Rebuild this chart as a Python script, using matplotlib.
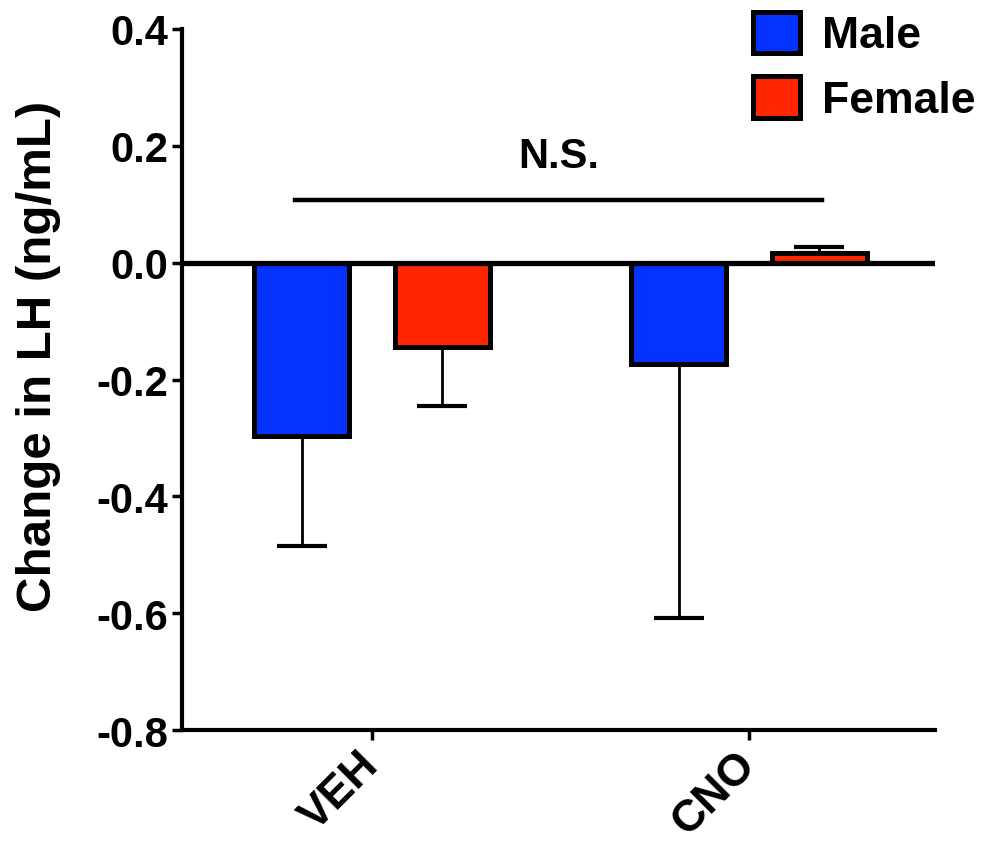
import numpy as np
import matplotlib
matplotlib.use("Agg")
import matplotlib.pyplot as plt

plt.rcParams['font.family'] = ['Liberation Sans', 'DejaVu Sans']
plt.rcParams['font.weight'] = 'bold'

# Datos
grupos = ["VEH", "CNO"]
series = ["Male", "Female"]
media_male = [-0.296, -0.173]
media_female = [-0.145, 0.017]
error_male = [0.189, 0.435]
error_female = [0.100, 0.010]
colores = ["#0433FF", "#FF2600"]
ticks_y = [-0.8, -0.6, -0.4, -0.2, 0.0, 0.2, 0.4]
etiquetas_y = ["-0.8", "-0.6", "-0.4", "-0.2", "0.0", "0.2", "0.4"]

fig = plt.figure(figsize=(9.82, 8.45), dpi=100)
ax = fig.add_axes([0.1853, 0.1349, 0.7668, 0.8296])

x = np.arange(len(grupos))
ancho = 0.252
desp = 0.186

for medias, errores, color, nombre, signo in [
        (media_male, error_male, colores[0], series[0], -1),
        (media_female, error_female, colores[1], series[1], 1)]:
    pos = x + signo * desp
    ax.bar(pos, medias, width=ancho, color=color, edgecolor='black',
           linewidth=3.6, label=nombre, zorder=3)
    # barras de error de un solo lado (hacia fuera)
    abajo = [e if m < 0 else 0 for m, e in zip(medias, errores)]
    arriba = [e if m >= 0 else 0 for m, e in zip(medias, errores)]
    ax.errorbar(pos, medias, yerr=[abajo, arriba], fmt='none', ecolor='black',
                elinewidth=2, capsize=18, capthick=3, zorder=2)

ax.axhline(0, color='black', linewidth=3.8, zorder=4)

# N.S.
ax.plot([-0.204, 1.194], [0.108, 0.108], color='black', linewidth=3.2)
ax.text(0.494, 0.148, "N.S.", ha='center', va='bottom', fontsize=30, fontweight='bold')

ax.set_xlim(-0.504, 1.493)
ax.set_ylim(-0.8, 0.4)
ax.set_yticks(ticks_y)
ax.set_yticklabels(etiquetas_y, fontsize=30, fontweight='bold')
ax.set_xticks(x)
ax.set_xticklabels(grupos, fontsize=32, fontweight='bold', rotation=45,
                   ha='right', va='center', rotation_mode='anchor')
ax.set_ylabel("Change in LH (ng/mL)", fontsize=35.5, fontweight='bold')
ax.yaxis.set_label_coords(-0.16, 0.535)

for lado in ['top', 'right']:
    ax.spines[lado].set_visible(False)
for lado in ['left', 'bottom']:
    ax.spines[lado].set_linewidth(3)
ax.tick_params(axis='both', width=2.5, length=7)
ax.tick_params(axis='y', pad=3)
ax.tick_params(axis='x', pad=13)

fig.legend(loc='upper right', bbox_to_anchor=(1.018, 1.014), frameon=False,
           fontsize=32, handlelength=1.05, handleheight=1.05,
           handletextpad=0.5, labelspacing=0.45, borderaxespad=0.15)

fig.savefig("out.png", dpi=100)
